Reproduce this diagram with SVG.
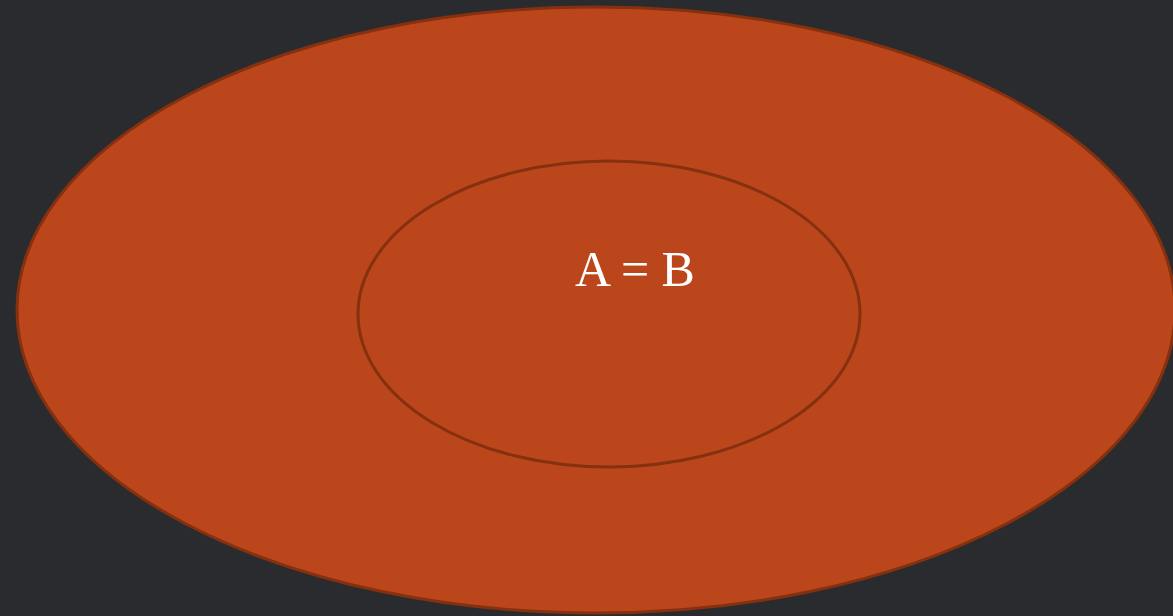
<svg xmlns="http://www.w3.org/2000/svg" width="1173" height="616" viewBox="0 0 1173 616">
<style>
.shape{fill:#bc461c;stroke:#85300f;stroke-width:3}
.label{font-family:"Liberation Serif",serif;font-size:50px;fill:#ffffff;text-anchor:middle}
</style>
<rect width="1173" height="616" fill="#2a2b2e"/>
<g id="outer"><ellipse class="shape" cx="596" cy="310" rx="579" ry="303"/></g>
<g id="inner"><ellipse class="shape" cx="609" cy="314" rx="251" ry="153"/>
<text class="label" x="635" y="286">A = B</text></g>
<g id="connectors"/>
</svg>
